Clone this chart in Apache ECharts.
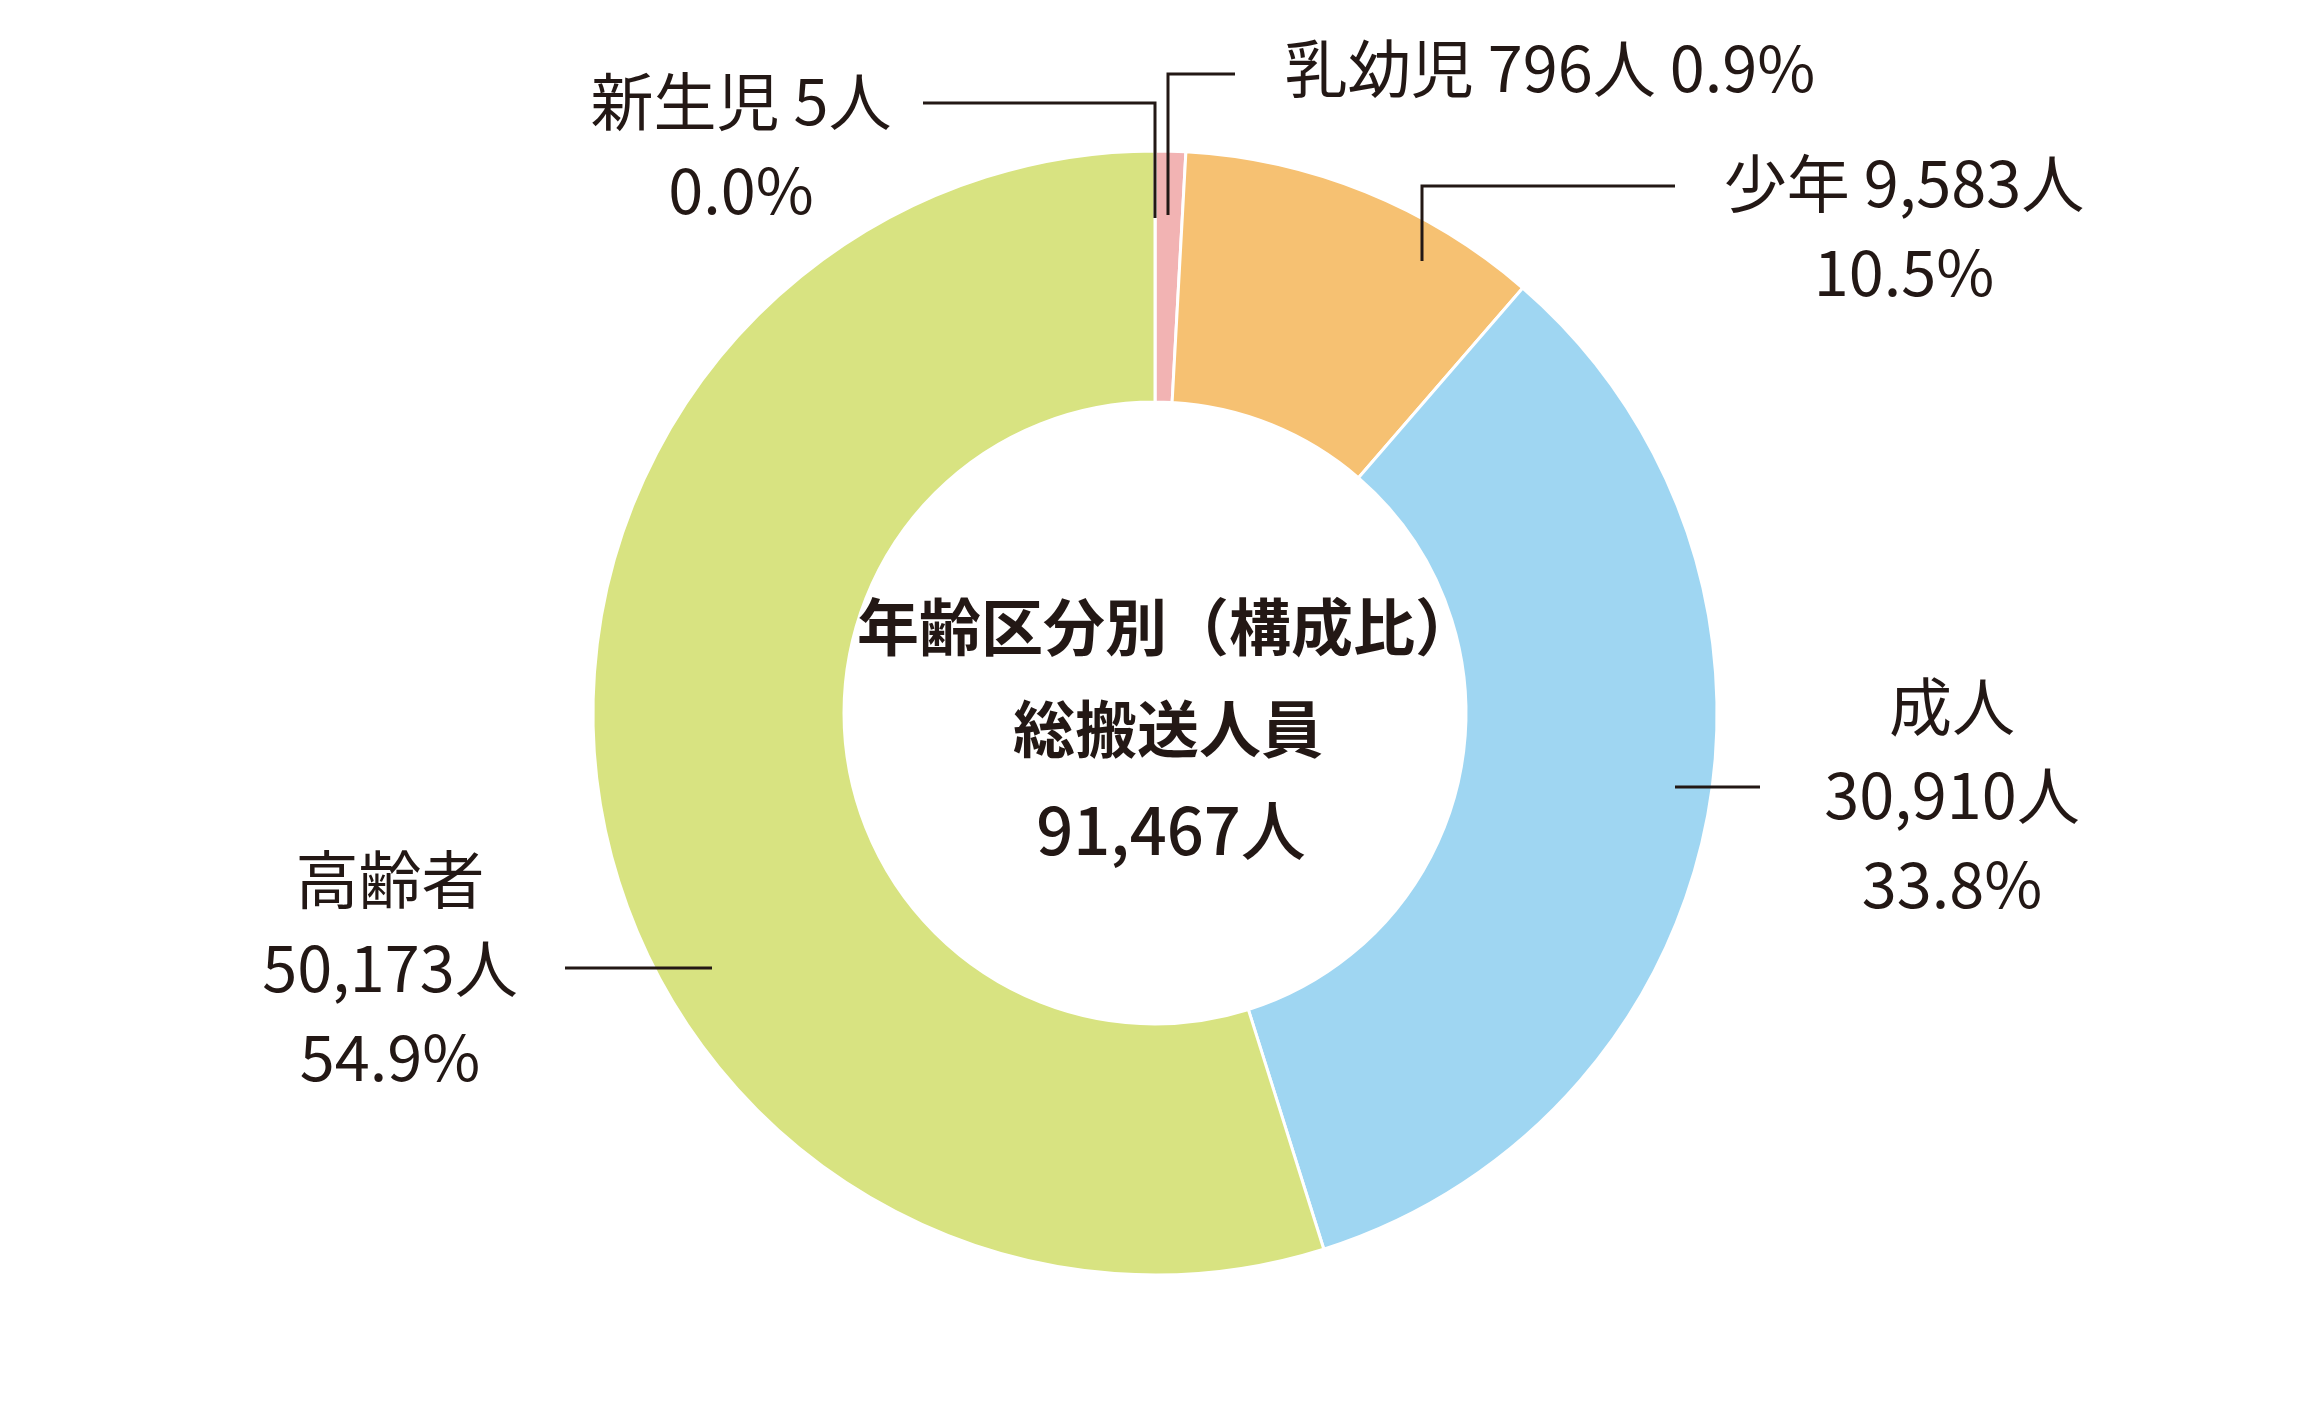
<!DOCTYPE html>
<html>
<head>
<meta charset="utf-8">
<script src="https://cdn.jsdelivr.net/npm/echarts@6/dist/echarts.min.js"></script>
<style>
html, body { margin: 0; padding: 0; background: #fff; }
#main { width: 2308px; height: 1427px; }
</style>
</head>
<body>
<div id="main"></div>
<script>
// 年齢区分別 総搬送人員（構成比）
const categories = ['新生児', '乳幼児', '少年', '成人', '高齢者'];
const persons = [5, 796, 9583, 30910, 50173];
const centerTitle = ['年齢区分別（構成比）', '総搬送人員'];

// 名前と人数、人数と構成比の間の区切り（空白か改行）
const nameSep = [' ', ' ', ' ', '\n', '\n'];
const pctSep = ['\n', ' ', '\n', '\n', '\n'];

const colors = ['#eea3a8', '#f2b3b3', '#f6c172', '#9fd6f2', '#d8e381'];
const ink = '#231815';
const font = '"Noto Sans CJK JP", sans-serif';

// ラベルの位置と引き出し線
const spots = [
    { x: 741, y: 146, line: [[923, 103], [1155, 103], [1155, 218]] },
    { x: 1550, y: 68, line: [[1235, 74], [1168, 74], [1168, 215]] },
    { x: 1904, y: 228, line: [[1675, 186], [1422, 186], [1422, 261]] },
    { x: 1952, y: 795, line: [[1760, 787], [1675, 787]] },
    { x: 390, y: 968, line: [[565, 968], [712, 968]] }
];

const total = persons.reduce((a, b) => a + b, 0);
const fmt = v => v.toLocaleString('en-US');

const chart = echarts.init(document.getElementById('main'));

// 引き出し線は扇形の上に描く
const leaders = spots.map(s => ({
    type: 'polyline',
    z: 100,
    shape: { points: s.line },
    style: { stroke: ink, lineWidth: 3, fill: null }
}));

const option = {
    animation: false,
    color: colors,
    graphic: leaders.concat([
        {
            type: 'text', x: 1167, y: 627, z: 100,
            style: { text: centerTitle[0], font: 'bold 62px ' + font, fill: ink, align: 'center', verticalAlign: 'middle' }
        },
        {
            type: 'text', x: 1168, y: 729, z: 100,
            style: { text: centerTitle[1], font: 'bold 62px ' + font, fill: ink, align: 'center', verticalAlign: 'middle' }
        },
        {
            type: 'text', x: 1171, y: 830, z: 100,
            style: { text: fmt(total) + '人', font: '500 65px ' + font, fill: ink, align: 'center', verticalAlign: 'middle' }
        }
    ]),
    series: [
        {
            type: 'pie',
            center: [1155, 713],
            radius: [311, 562],
            startAngle: 90,
            clockwise: true,
            avoidLabelOverlap: false,
            emphasis: { disabled: true },
            itemStyle: { borderColor: '#fff', borderWidth: 3 },
            label: {
                show: true,
                position: 'outside',
                color: ink,
                fontFamily: font,
                fontSize: 63,
                lineHeight: 89,
                formatter: function (p) {
                    const i = p.dataIndex;
                    const pct = (p.value / total * 100).toFixed(1);
                    return p.name + nameSep[i] + fmt(p.value) + '人' + pctSep[i] + pct + '%';
                }
            },
            labelLine: { show: false },
            labelLayout: function (params) {
                const s = spots[params.dataIndex];
                return { x: s.x, y: s.y, align: 'center', verticalAlign: 'middle' };
            },
            data: categories.map((name, i) => ({ name: name, value: persons[i] }))
        }
    ]
};

chart.setOption(option);
</script>
</body>
</html>
